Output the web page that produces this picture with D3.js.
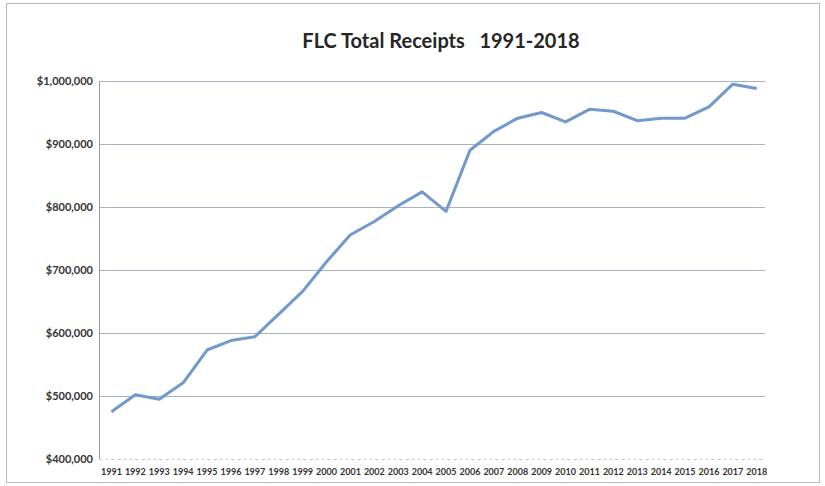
<!DOCTYPE html>
<html lang="en">
<head>
  <meta charset="UTF-8">
  <title>FLC Total Receipts 1991-2018</title>
  <script src="https://d3js.org/d3.v7.min.js"></script>
  <style>
    body {
      margin: 0;
      background: #fff;
    }
    svg {
      display: block;
      font-family: Lato, "Open Sans", sans-serif;
    }
    .grid line {
      stroke: #a9b1c0;
      stroke-width: 1;
    }
    .y-label {
      font-size: 11px;
      font-weight: 700;
      fill: #333;
    }
    .x-label {
      font-size: 9px;
      font-weight: 700;
      fill: #333;
    }
  </style>
</head>
<body>
  <div id="chart"></div>
  <script>
    const years = ["1991", "1992", "1993", "1994", "1995", "1996", "1997", "1998", "1999", "2000",
      "2001", "2002", "2003", "2004", "2005", "2006", "2007", "2008", "2009", "2010",
      "2011", "2012", "2013", "2014", "2015", "2016", "2017", "2018"];

    const receipts = [475000, 502000, 495000, 521000, 573000, 588000, 594000, 630000, 666000, 713000,
      756000, 777000, 802000, 824000, 793000, 890000, 920000, 941000, 950000, 935000,
      955000, 952000, 937000, 941000, 941000, 959000, 995000, 988000];

    const yTicks = [400000, 500000, 600000, 700000, 800000, 900000, 1000000];

    const width = 825;
    const height = 486;
    const margin = { top: 81, right: 57, bottom: 27, left: 99.5 };

    const svg = d3.select("#chart")
      .append("svg")
      .attr("width", width)
      .attr("height", height);

    // scanned page frame
    svg.append("rect")
      .attr("x", 6.5)
      .attr("y", 3.5)
      .attr("width", 813)
      .attr("height", 479)
      .attr("fill", "none")
      .attr("stroke", "#b8b8b8")
      .attr("stroke-width", 1);

    const x = d3.scaleBand()
      .domain(years)
      .range([margin.left, margin.left + years.length * 23.9])
      .padding(0);

    const y = d3.scaleLinear()
      .domain([400000, 1000000])
      .range([height - margin.bottom, margin.top]);

    const xCenter = d => x(d) + x.bandwidth() / 2;

    svg.append("text")
      .attr("x", 441)
      .attr("y", 48)
      .attr("text-anchor", "middle")
      .attr("font-size", 20)
      .attr("font-weight", 700)
      .attr("fill", "#262626")
      .attr("xml:space", "preserve")
      .text("FLC Total Receipts   1991-2018");

    // gridlines
    svg.append("g")
      .attr("class", "grid")
      .selectAll("line")
      .data(yTicks.slice(1))
      .join("line")
      .attr("x1", margin.left)
      .attr("x2", 765)
      .attr("y1", d => Math.round(y(d)) + 0.5)
      .attr("y2", d => Math.round(y(d)) + 0.5);

    // y axis line
    svg.append("line")
      .attr("x1", margin.left)
      .attr("x2", margin.left)
      .attr("y1", y(1000000))
      .attr("y2", y(400000))
      .attr("stroke", "#9a9a9a");

    // x axis line
    svg.append("line")
      .attr("x1", margin.left)
      .attr("x2", 765)
      .attr("y1", Math.round(y(400000)) + 0.5)
      .attr("y2", Math.round(y(400000)) + 0.5)
      .attr("stroke", "#c8c8c8")
      .attr("stroke-dasharray", "3,3");

    const fmt = d3.format("$,");

    svg.append("g")
      .selectAll("text")
      .data(yTicks)
      .join("text")
      .attr("class", "y-label")
      .attr("x", 93)
      .attr("y", d => y(d) + 4)
      .attr("text-anchor", "end")
      .text(d => fmt(d));

    svg.append("g")
      .selectAll("text")
      .data(years)
      .join("text")
      .attr("class", "x-label")
      .attr("x", d => xCenter(d))
      .attr("y", 475)
      .attr("text-anchor", "middle")
      .text(d => d);

    const line = d3.line()
      .x((d, i) => xCenter(years[i]))
      .y(d => y(d));

    svg.append("path")
      .datum(receipts)
      .attr("fill", "none")
      .attr("stroke", "#7199cb")
      .attr("stroke-width", 3)
      .attr("stroke-linejoin", "round")
      .attr("d", line);
  </script>
</body>
</html>
